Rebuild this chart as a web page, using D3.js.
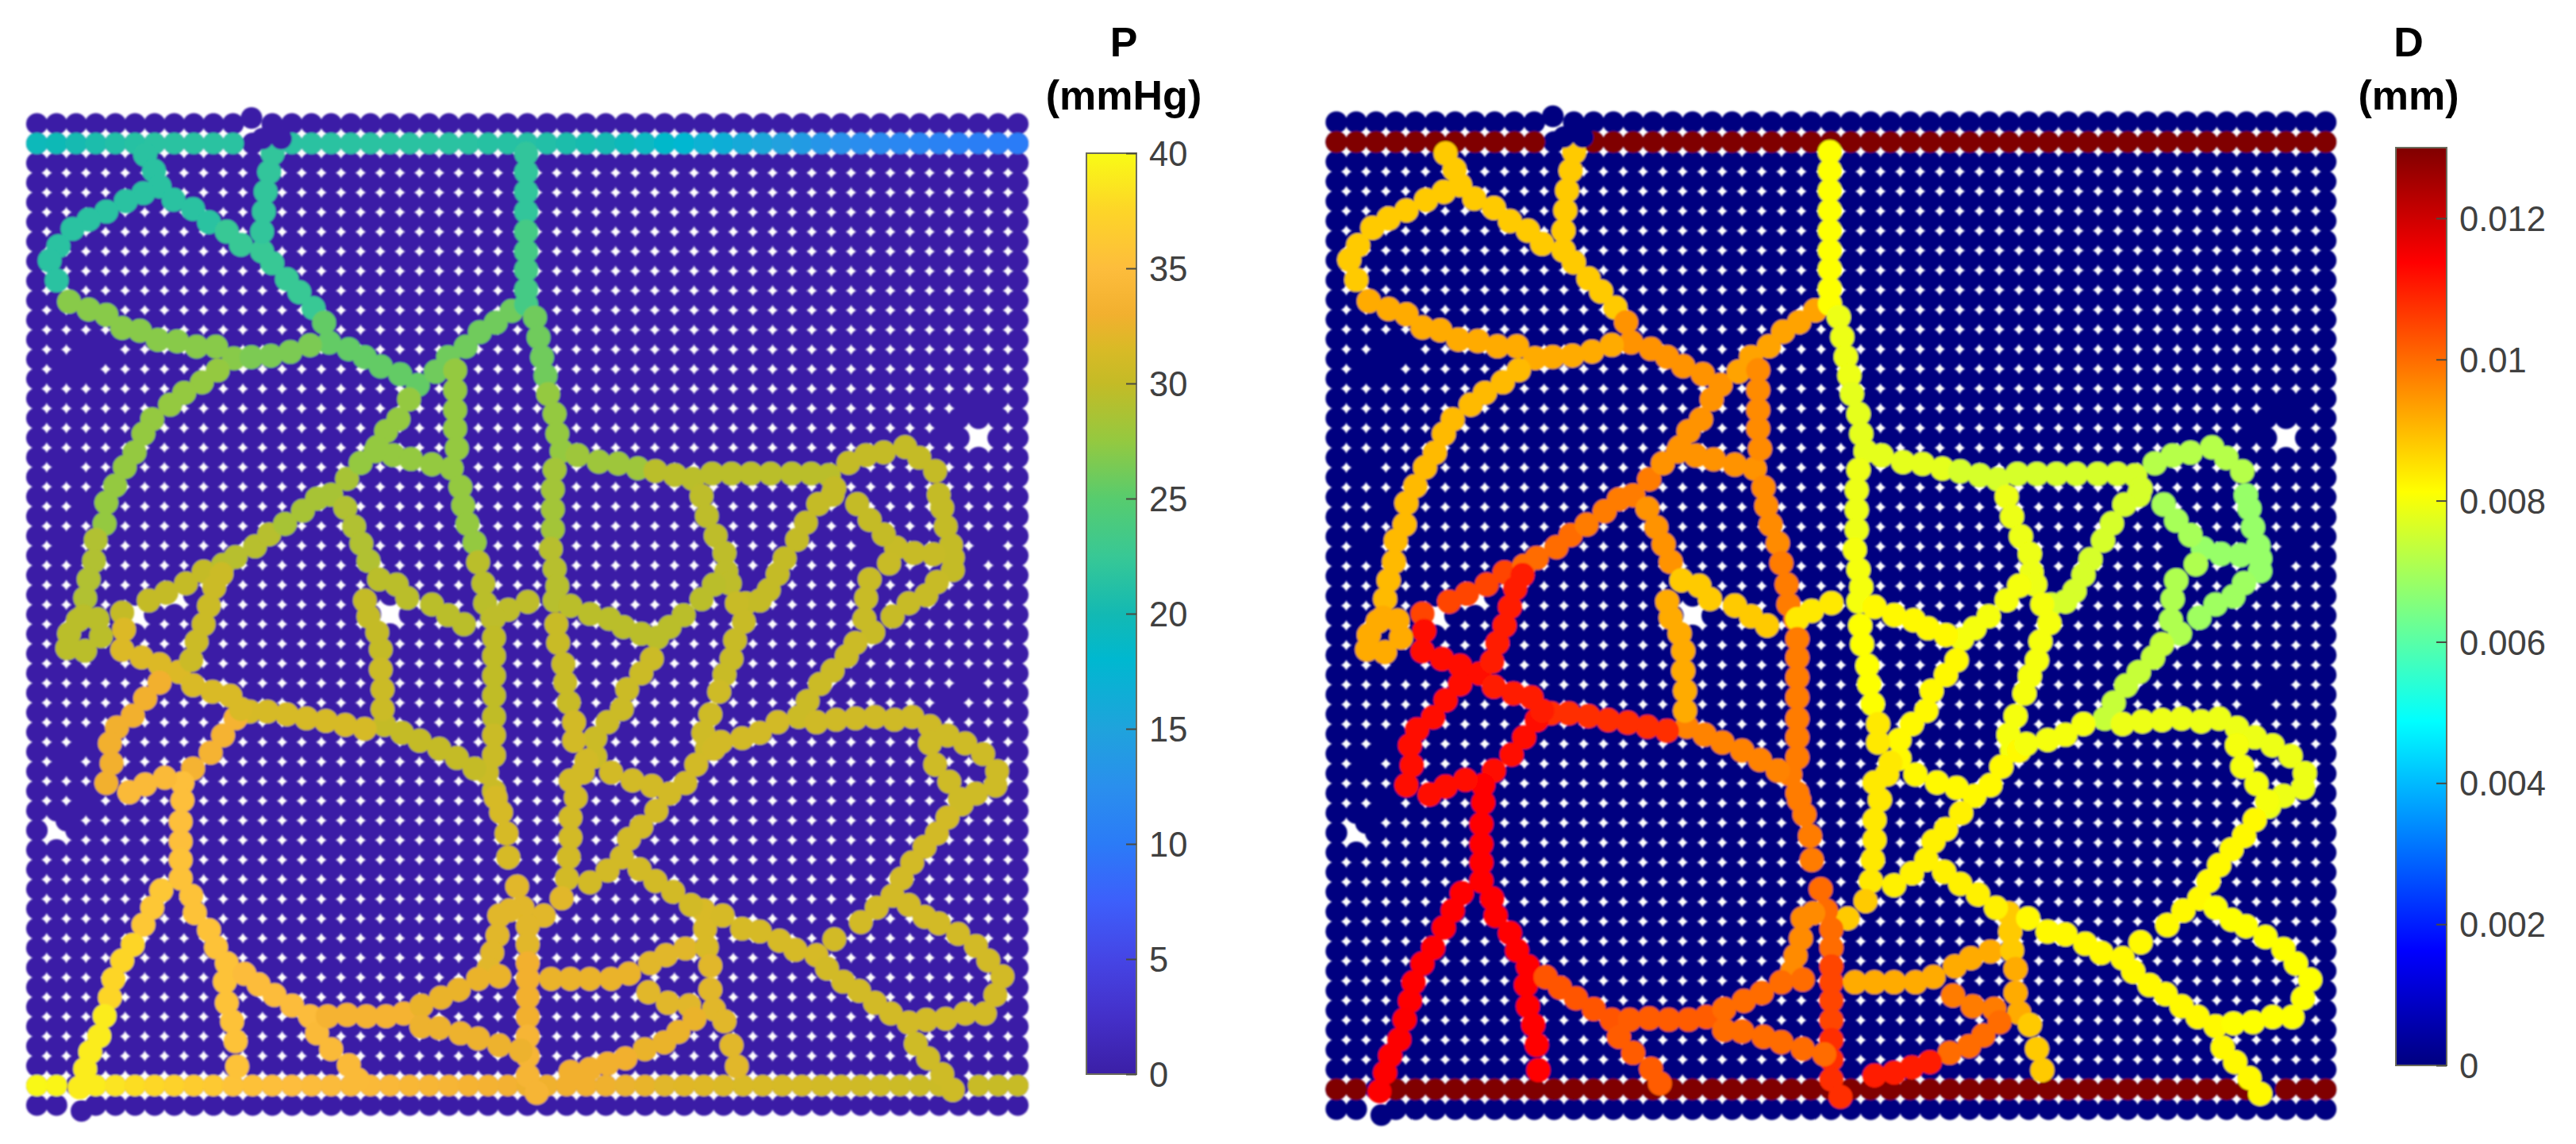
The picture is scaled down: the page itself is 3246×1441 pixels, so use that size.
<!DOCTYPE html>
<html>
<head>
<meta charset="utf-8">
<script src="https://cdn.jsdelivr.net/npm/d3@7"></script>
<style>
  html, body { margin: 0; background: #fff; }
  text { font-family: "Liberation Sans", Arial, sans-serif; }
</style>
</head>
<body>
<div id="visualization"></div>
<script>
// lattice size (nodes per side) and colour bar ticks
var latticeSize = 51;
var pressureTicks = [0, 5, 10, 15, 20, 25, 30, 35, 40];
var diameterTicks = [0, 0.002, 0.004, 0.006, 0.008, 0.01, 0.012];

// colour maps, bottom to top
var parulaValues = [0, 2.5, 5, 7.5, 10, 12.5, 15, 18, 20, 22.5, 25, 27.5, 30, 31.5, 33, 35, 37.5, 40];
var parulaColors = ['#3b1fa6', '#4430c9', '#4545e5', '#3d5ffb', '#2b7bf7', '#2a8fed', '#1fa3dc', '#00b8d0', '#13b9b3', '#38c895', '#57cc6e', '#94c940', '#c4bb26', '#d9ba26', '#f2b02f', '#fdbd3c', '#fdd528', '#f9fb15'];
var jetValues = [0, 0.001625, 0.004875, 0.008125, 0.011375, 0.013];
var jetColors = ['#000080', '#0000ff', '#00ffff', '#ffff00', '#ff0000', '#800000'];

// pressure along the inlet row (row 1) and outlet row (row 49), one per column, null = node moved away
var inletP = [19.5, 19.8, 20.2, 20.6, 21, 21.3, 21.5, 21.5, 21.5, 21.5, 21.5, null, null, 21.5, 21.5, 21.5, 21.5, 21.5, 21.5, 21.5, 21.5, 21.5, 21.5, 21.4, 21.3, 21.2, 21, 20.7, 20.3, 20, 19.5, 19, 18.4, 17.8, 17.2, 16.5, 15.9, 15.4, 14.7, 14, 13.3, 12.8, 12.2, 11.9, 11.5, 11.2, 10.9, 10.6, 10.4, 10.2, 10];
var outletP = [39.8, 39.6, null, 39, 38.5, 38, 37.6, 37.2, 36.6, 36.2, 35.6, 35.4, 35.2, 35, 34.8, 34.7, 34.5, 34.4, 34.2, 34, 33.9, 33.7, 33.5, 33.3, 33.1, 32.8, 32.9, 33, 33, 32.8, 32.6, 32.4, 32, 31.9, 31.8, 31.6, 31.5, 31.4, 31.3, 31.2, 31, 30.9, 30.8, 30.7, 30.6, 30.5, 30.5, null, 30.3, 30.2, 30.2];
var railD = 0.013;

// lattice nodes pushed off their place, still empty (P = D = 0)
var movedCols = [10.94, 11.5, 12.45, 2.27];
var movedRows = [-0.3, 0.75, 0.75, 50.3];

// empty nodes that went missing from the lattice (white patches)
var gapCols = [5, 7, 48, 1, 18];
var gapRows = [25, 24, 16, 36, 25];

// empty nodes sitting in the gaps between lattice nodes (closed holes)
var fillCols = [2.5, 2.5, 1.5, 3.5, 1.5, 2.5, 1.5, 3.5, 2.5, 1.5, 2.5, 1.5, 42.5, 42.5, 48.5, 47.5, 47.5, 46.5, 36.5, 47.5, 48.5, 46.5];
var fillRows = [11.5, 12.5, 12.5, 11.5, 17.5, 19.5, 21.5, 27.5, 31.5, 32.5, 34.5, 35.5, 21.5, 22.5, 21.5, 22.5, 28.5, 29.5, 23.5, 14.5, 14.5, 15.5];

// vessel segments: col,row pairs of each node, with pressure and diameter per segment
var segPoints = [
    [5.52,1.58, 5.97,2.39, 6.25,3.19, 6.97,3.87, 7.96,4.34, 8.77,5.01],
    [9.68,5.49, 10.4,6.16, 11.48,6.5, 12,7.1, 12.74,7.91, 13.38,8.58, 14.1,9.39],
    [14.64,10.13, 14.9,11.15, 15.9,11.48, 16.71,11.89, 17.53,12.36, 18.52,12.76, 19.42,13.3],
    [5.43,3.53, 4.53,3.94, 3.54,4.47, 2.64,4.88, 1.82,5.35, 1.1,6.23, 0.65,6.97, 1.01,7.98],
    [1.64,9.06, 2.64,9.46, 3.54,9.73, 4.35,10.4, 5.25,10.54, 6.16,11.01, 7.15,11.08, 8.14,11.35, 9.13,11.35, 10.04,11.95],
    [12.02,1.51, 11.84,2.45, 11.66,3.46, 11.57,4.47, 11.48,5.49],
    [10.94,11.89, 11.93,11.82, 12.92,11.62, 13.92,11.28],
    [9.22,12.56, 8.41,13.17, 7.51,13.71, 6.79,14.31, 5.88,15.05, 5.43,15.79, 4.98,16.74],
    [4.48,17.49, 3.99,18.43, 3.54,19.3, 3.45,20.38],
    [3,21.2, 2.91,22.27, 2.64,23.21, 2.46,24.16],
    [2.36,25.1, 2.09,25.3, 3.09,25.24, 1.64,25.98, 3.27,26.11, 1.55,26.72, 2.45,26.85],
    [4.35,24.9, 5.7,24.29, 6.6,23.89, 7.6,23.42, 8.5,22.81],
    [9.49,22.47, 10.13,22.07, 11.12,21.53, 11.84,20.92],
    [12.65,20.38, 13.56,19.71, 14.28,19.1, 15,18.9, 15.81,18.09],
    [16.5,17.28, 17.26,16.68, 18.16,16.88, 19.07,17.08, 20.14,17.35, 21.14,17.55],
    [18.97,14.04, 18.43,15.05, 17.8,15.66, 17.35,16.47],
    [20.33,12.63, 20.96,11.89, 21.86,11.35, 22.58,10.61, 23.39,10.13, 24.2,9.53],
    [21.32,12.56, 21.32,13.57, 21.32,14.58, 21.32,15.53, 21.41,16.54],
    [21.59,18.5, 21.73,19.44, 21.95,20.38, 22.31,21.33],
    [22.49,22.34, 22.76,23.42, 22.85,24.43, 23.21,25.17],
    [24.94,1.51, 24.94,2.45, 24.94,3.46, 24.94,4.47],
    [24.94,5.49, 24.94,6.5, 24.94,7.44, 24.94,8.45, 24.94,9.2],
    [25.39,9.87, 25.57,10.88, 25.75,11.89, 25.93,12.83],
    [26.06,13.77, 26.39,14.78, 26.53,15.79, 26.75,16.67],
    [26.39,17.62, 26.3,18.63, 26.3,19.64, 26.3,20.65],
    [26.2,21.66, 26.39,22.67, 26.53,23.55, 26.39,24.29],
    [25.02,24.36, 24.03,24.76, 23.3,25.17],
    [27.56,16.88, 28.64,17.22, 29.63,17.31, 30.63,17.55],
    [31.53,17.69, 32.52,17.89, 33.43,18.09, 34.42,17.82, 35.41,17.82, 36.4,17.82, 37.4,17.82, 38.48,17.82, 39.47,17.82, 40.37,17.89],
    [41.37,17.28, 42.27,16.88, 43.17,16.74, 44.26,16.47, 44.98,17.01, 45.79,17.69],
    [45.97,18.9, 46.15,19.57, 46.33,20.52, 46.6,21.46, 46.69,22.1, 46.69,22.74],
    [45.88,23.35, 45.34,24.02, 44.44,24.43, 43.62,25.1],
    [43.8,21.6, 44.71,21.87, 45.7,21.93],
    [43.44,22.4, 42.45,23.21, 42.27,24.16, 42.18,25.23, 42.63,25.91],
    [41.73,26.45, 41.28,27.12, 40.56,27.86, 39.92,28.54, 39.29,29.41, 38.84,30.22],
    [40.65,18.56, 40.56,18.9, 39.83,19.37, 39.2,20.32, 38.75,21.19, 38.12,22.14, 37.76,22.94, 37.31,23.75, 36.85,24.29, 36.13,24.43],
    [41.82,19.37, 42.45,20.18, 43.17,20.92],
    [33.88,18.97, 34.15,19.98, 34.6,20.99, 35.05,21.87, 35.14,22.81, 35.32,23.42],
    [35.68,24.43, 36.04,25.37, 35.59,26.31, 35.41,27.26, 35.05,28.06],
    [34.78,28.94, 34.33,30.09, 33.97,31.03, 34.15,31.84],
    [34.51,23.48, 33.88,24.22, 32.97,25.03, 32.25,25.64, 31.62,26.18],
    [27.2,24.56, 28.19,24.97, 29.18,25.23, 29.9,25.64, 30.81,25.98],
    [31.35,27.26, 30.81,28, 30.09,28.81, 29.82,29.82, 29.09,30.49, 28.46,31.3, 28.46,32.24],
    [26.48,25.5, 26.57,26.45, 26.84,27.53, 26.93,28.47, 27.11,29.48],
    [27.38,30.49, 27.38,31.43, 28.01,32.45, 27.83,33.05, 27.2,33.46],
    [27.47,34.33, 27.2,35.35, 27.2,36.36, 27.11,37.37, 27.02,38.45],
    [29.27,33.05, 30.36,33.46, 31.35,33.73, 32.25,34.13, 33.06,33.59, 33.61,32.65, 34.51,31.84],
    [34.87,31.5, 35.95,31.3, 36.85,31.03, 37.76,30.49],
    [39.74,30.49, 40.74,30.36, 41.73,30.29, 42.72,30.22, 43.71,30.36, 44.62,30.22, 45.52,30.69],
    [46.42,31.16, 47.32,31.57, 48.23,32.11, 48.95,32.98, 48.86,33.72, 47.87,34.13, 47.14,34.67],
    [45.52,31.57, 45.79,32.65, 46.51,33.52, 47.05,34.4],
    [31.58,35, 30.81,35.82, 30.18,36.43, 29.82,37.37, 29.09,38.05, 28.19,38.66],
    [26.75,39.46, 25.84,40.34],
    [23.3,26.18, 23.3,27.12, 23.3,28.13, 23.3,29.14, 23.3,30.22],
    [23.3,31.16, 23.3,32.18, 22.94,33.05, 23.3,34],
    [23.39,34.34, 23.66,35.08, 23.94,36.16, 24.03,37.38],
    [24.48,38.86, 24.75,39.94, 25.02,40.88, 25.02,41.82],
    [24.1,40.07, 23.57,40.34, 23.48,41.35, 23.21,42.23, 23.03,43.04],
    [25.02,42.77, 25.02,43.57, 25.02,44.5, 25.02,45.5],
    [25.02,46.5, 25.02,47.5, 25.02,48.5, 25.48,49.38],
    [22.31,32.85, 21.41,32.31, 20.51,31.84, 19.51,31.43, 18.61,31.03, 17.71,30.63],
    [16.71,30.83, 15.72,30.63, 14.73,30.42, 13.74,30.29, 12.74,30.09, 11.75,29.95, 10.85,29.95],
    [10.13,30.29, 9.49,31.16, 8.86,32.04, 7.96,32.85],
    [7.42,33.59, 7.42,34.47, 7.33,35.56, 7.33,36.57],
    [7.33,37.51, 7.33,38.45],
    [6.34,39.06, 5.88,39.94, 5.43,40.81],
    [4.89,41.83, 4.35,42.63, 3.9,43.58, 3.72,44.52],
    [3.45,45.46, 3.18,46.48, 2.72,47.29, 2.46,48.16, 2.18,49.1],
    [7.87,39.33, 8.05,40.21, 8.77,41.08, 9.13,41.96, 9.68,42.77],
    [9.58,43.71, 9.68,44.79, 9.95,45.74, 10.13,46.75, 10.21,48.03],
    [10.58,43.31, 11.3,43.85, 12.11,44.39, 13.01,44.93, 13.92,45.47],
    [14.28,46.34, 15,47.15, 15.9,47.96, 16.35,48.7],
    [14.82,45.47, 15.81,45.4, 16.8,45.47, 17.8,45.47, 18.7,45.33],
    [19.6,44.93, 20.6,44.52, 21.5,44.12, 22.49,43.57, 23.57,43.44],
    [19.6,46, 20.51,46.07, 21.59,46.34, 22.49,46.61, 23.57,46.95, 24.66,47.22],
    [26.21,43.57, 27.2,43.57, 28.19,43.57, 29.27,43.57, 30.18,43.3],
    [31.26,42.77, 32.07,42.36, 33.06,42.02],
    [33.97,40.07, 34.06,41.01, 34.15,41.96],
    [34.33,42.9, 34.33,44.11, 34.51,45.12],
    [31.17,44.25, 32.16,44.79, 33.25,44.92],
    [33.52,45.6, 32.7,46.27, 31.98,46.81, 30.99,47.15],
    [30,47.62, 29.09,47.89, 28.19,48.16, 27.2,48.3],
    [35.05,45.73, 35.41,46.95, 35.68,48.03],
    [30.72,37.98, 31.53,38.59, 32.43,39.13, 33.34,39.8],
    [34.96,40.34, 35.95,41.01, 36.85,41.15, 37.85,41.62, 38.66,42.09, 39.74,42.36],
    [40.28,43.04, 41.1,43.71, 41.91,44.18, 42.72,44.79, 43.53,45.33, 44.44,45.8],
    [44.8,46.88, 45.43,47.62, 46.15,48.43, 46.69,49.23],
    [40.65,41.55, 42,40.68, 42.81,39.94, 43.62,39.33, 44.08,38.45, 44.62,37.64, 45.25,36.84, 45.88,36.16, 46.42,35.35],
    [44.44,39.8, 45.25,40.41, 45.97,40.74, 46.96,41.28, 47.87,41.89, 48.5,42.63, 49.22,43.44],
    [48.86,44.38, 48.32,45.33, 47.32,45.33, 46.33,45.6, 45.34,45.66],
    [15.72,19.57, 16.17,20.52, 16.54,21.39, 16.9,22.27],
    [17.44,23.21, 18.34,23.48, 18.88,24.16, 20.14,24.49, 20.96,25.03, 21.77,25.5],
    [16.72,24.29, 16.9,25.1, 17.35,25.91, 17.53,26.78],
    [17.53,27.8, 17.62,28.81, 17.62,29.82],
    [4.44,25.77, 4.35,26.8, 5.34,27.19, 6.25,27.53, 7.24,27.93],
    [7.87,27.32, 8.14,26.38, 8.5,25.5, 8.77,24.56, 9.04,23.62, 9.41,22.94],
    [6.25,28.47, 5.52,29.28, 4.89,30.15, 4.08,30.76, 3.72,31.57, 3.81,32.58, 3.54,33.59],
    [4.71,34.06, 5.52,33.66, 6.52,33.32],
    [7.96,28.6, 8.95,28.94, 9.86,29.14, 10.4,29.82]
];

var segP = [21.5, 22.5, 25.5, 21.5, 27, 22, 26.5, 27.5, 27.5, 29, 29.5, 30, 29.3, 28.5, 27.5, 27.5, 26, 27.5, 27.5, 29.5,
    22, 23.5, 26, 27.5, 28.3, 29.3, 29.7, 28, 29.5, 30, 30, 30.2, 30.2, 30.3, 30.5, 30, 30, 29.7, 30.3, 30.7,
    29.5, 29.5, 30.5, 30.3, 31, 31, 31, 31, 30.8, 30.7, 30.7, 31, 32, 29.8, 30.4, 31.3, 32, 32, 33, 33.7,
    30, 31.3, 33.5, 35.2, 35.5, 36, 37.5, 39, 35.5, 35.5, 34.8, 34.5, 33.5, 32.5, 32.7, 32.5, 32, 31.5, 32, 32,
    32.5, 33, 32, 31, 31.3, 31, 30.7, 31, 31, 31, 29, 29.5, 30, 30.5, 31.7, 30.5, 33, 34.5, 31.5];

var segD = [0.0088, 0.0088, 0.0095, 0.0088, 0.0092, 0.0088, 0.0092, 0.009, 0.009, 0.009, 0.0092, 0.0105, 0.01, 0.0098, 0.0095, 0.0095, 0.0093, 0.0096, 0.0096, 0.0098,
    0.0081, 0.0081, 0.0079, 0.0078, 0.0079, 0.008, 0.0084, 0.0078, 0.0076, 0.0072, 0.0068, 0.0069, 0.0068, 0.0071, 0.0074, 0.0076, 0.007, 0.0079, 0.008, 0.008,
    0.008, 0.0082, 0.0082, 0.0081, 0.0084, 0.0084, 0.0082, 0.008, 0.0079, 0.0079, 0.008, 0.0083, 0.0088, 0.0098, 0.0098, 0.0098, 0.01, 0.0096, 0.0105, 0.0108,
    0.0097, 0.0108, 0.0112, 0.0113, 0.0113, 0.0113, 0.0113, 0.0114, 0.0113, 0.0113, 0.0103, 0.0102, 0.0102, 0.01, 0.01, 0.0092, 0.0092, 0.0088, 0.0092, 0.0098,
    0.01, 0.011, 0.0088, 0.0083, 0.0082, 0.0082, 0.0082, 0.0082, 0.0081, 0.0081, 0.0095, 0.0088, 0.0092, 0.0092, 0.0112, 0.011, 0.0112, 0.0112, 0.011];

var parula = d3.scaleLinear().domain(parulaValues).range(parulaColors);
var jet = d3.scaleLinear().domain(jetValues).range(jetColors);

// flatten the segments into nodes
var vesselNodes = [];
segPoints.forEach(function(points, i) {
    for (var k = 0; k < points.length; k += 2) {
        vesselNodes.push({ col: points[k], row: points[k + 1], p: segP[i], d: segD[i] });
    }
});

var usedNodes = new Set();
gapCols.forEach(function(c, i) { usedNodes.add(c + ',' + gapRows[i]); });
movedCols.forEach(function(c, i) { usedNodes.add(Math.round(c) + ',' + Math.round(movedRows[i])); });

var latticeNodes = [];
d3.range(latticeSize).forEach(function(r) {
    d3.range(latticeSize).forEach(function(c) {
        if (!usedNodes.has(c + ',' + r)) latticeNodes.push({ col: c, row: r, p: 0, d: 0 });
    });
});
fillCols.forEach(function(c, i) { latticeNodes.push({ col: c, row: fillRows[i], p: 0, d: 0 }); });

var inletNodes = [], outletNodes = [];
inletP.forEach(function(v, c) { if (v !== null) inletNodes.push({ col: c, row: 1, p: v, d: railD }); });
outletP.forEach(function(v, c) { if (v !== null) outletNodes.push({ col: c, row: 49, p: v, d: railD }); });

var movedNodes = movedCols.map(function(c, i) { return { col: c, row: movedRows[i], p: 0, d: 0 }; });

var svg = d3.select('#visualization')
    .append('svg')
    .attr('width', 3246)
    .attr('height', 1441)
    .style('display', 'block');

var defs = svg.append('defs');
defs.append('filter')
    .attr('id', 'soft')
    .attr('filterUnits', 'userSpaceOnUse')
    .attr('x', 0).attr('y', 0).attr('width', 3246).attr('height', 1441)
    .append('feGaussianBlur')
    .attr('stdDeviation', 0.8);

function drawPanel(opt) {
    var x = d3.scaleLinear().domain([0, latticeSize - 1]).range(opt.xRange);
    var y = d3.scaleLinear().domain([0, latticeSize - 1]).range(opt.yRange);

    var g = svg.append('g').attr('filter', 'url(#soft)');

    function dots(data, r) {
        g.append('g')
            .selectAll('circle')
            .data(data)
            .enter()
            .append('circle')
            .attr('cx', function(d) { return x(d.col) })
            .attr('cy', function(d) { return y(d.row) })
            .attr('r', r)
            .attr('fill', function(d) { return opt.color(d[opt.key]) });
    }

    dots(latticeNodes, opt.radius);
    dots(inletNodes, opt.radius);
    dots(outletNodes, opt.radius);
    dots(vesselNodes, opt.radius + 1.5);
    dots(movedNodes, opt.radius);

    // colour bar
    var scale = d3.scaleLinear().domain(opt.domain).range(opt.barY);
    var gradId = 'grad-' + opt.key;
    var grad = defs.append('linearGradient')
        .attr('id', gradId)
        .attr('x1', 0).attr('y1', 1).attr('x2', 0).attr('y2', 0);
    opt.color.domain().forEach(function(v) {
        grad.append('stop')
            .attr('offset', (v - opt.domain[0]) / (opt.domain[1] - opt.domain[0]))
            .attr('stop-color', opt.color(v));
    });

    var bar = svg.append('g');
    bar.append('rect')
        .attr('x', opt.barX[0])
        .attr('y', opt.barY[1])
        .attr('width', opt.barX[1] - opt.barX[0])
        .attr('height', opt.barY[0] - opt.barY[1])
        .attr('fill', 'url(#' + gradId + ')')
        .style('stroke', '#6b6b5c')
        .style('stroke-width', 2);

    var axis = bar.append('g')
        .attr('transform', 'translate(' + opt.barX[1] + ',0)')
        .call(d3.axisRight(scale)
            .tickValues(opt.ticks)
            .tickSize(-13)
            .tickPadding(16)
            .tickFormat(d3.format('~g')));
    axis.select('.domain').remove();
    axis.selectAll('line').attr('stroke', '#4a4a40').attr('stroke-width', 2);
    axis.selectAll('text')
        .style('font-size', '43.5px')
        .attr('fill', '#404040')
        .attr('dy', '0.36em');

    // title, two lines
    svg.append('text')
        .attr('text-anchor', 'middle')
        .attr('x', opt.titleX)
        .attr('y', 71)
        .style('font-size', '52px')
        .style('font-weight', 'bold')
        .style('fill', '#000')
        .text(opt.title);
    svg.append('text')
        .attr('text-anchor', 'middle')
        .attr('x', opt.titleX)
        .attr('y', 138)
        .style('font-size', '52px')
        .style('font-weight', 'bold')
        .style('fill', '#000')
        .text(opt.unit);
}

drawPanel({
    key: 'p', color: parula, domain: [0, 40], ticks: pressureTicks,
    xRange: [46.5, 1282.5], yRange: [156, 1392], radius: 13.6,
    barX: [1369, 1432], barY: [1353, 193], titleX: 1416, title: 'P', unit: '(mmHg)'
});

drawPanel({
    key: 'd', color: jet, domain: [0, 0.013], ticks: diameterTicks,
    xRange: [1684, 2930.5], yRange: [154, 1397], radius: 13.7,
    barX: [3019, 3083], barY: [1342, 186], titleX: 3035, title: 'D', unit: '(mm)'
});
</script>
</body>
</html>
